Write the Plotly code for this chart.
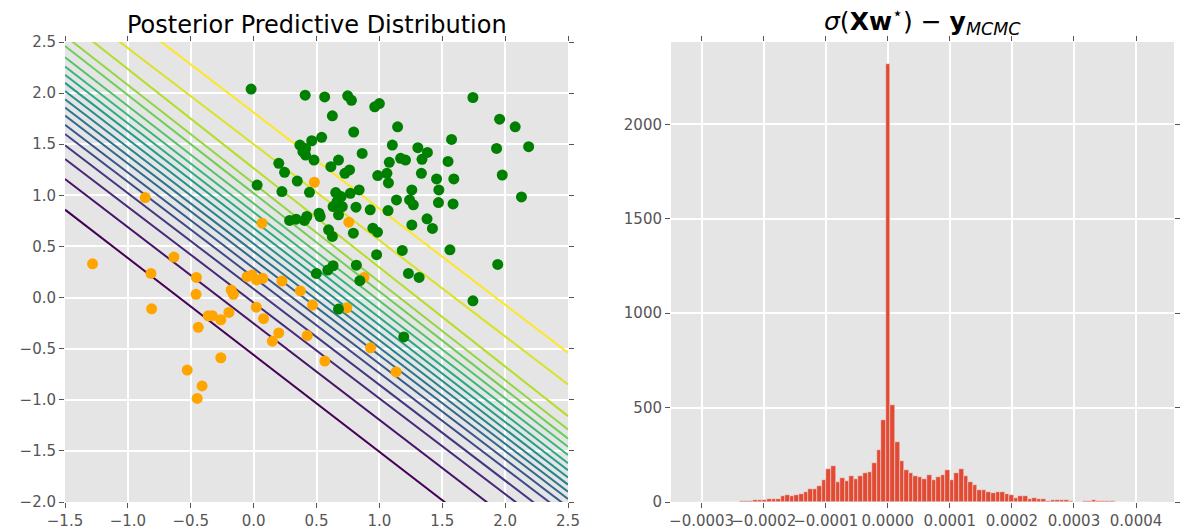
import numpy as np
import plotly.graph_objects as go
from plotly.colors import sample_colorscale

# ---------------- Left panel data ----------------
green_x = [-0.02, 0.41, 0.565, 0.748, 0.778, 0.963, 1.0, 0.626, 1.744, 1.956, 2.08, 2.187, 1.932,
           1.977, 2.13, 1.145, 0.796, 0.541, 0.462, 0.368, 0.413, 0.392, 0.413, 0.48, 0.614, 0.675,
           0.863, 1.103, 1.306, 1.382, 1.169, 1.208, 1.339, 1.574, 1.546, 1.592, 1.455, 1.079, 1.06,
           0.987, 1.072, 0.726, 0.763, 1.334, 1.258, 1.473, 1.47, 1.586, 1.136, 1.24, 1.27, 1.258,
           1.379, 1.422, 1.069, 0.927, 0.948, 0.985, 1.182, 1.561, 0.978, 0.2, 0.246, 0.347, 0.444,
           0.225, 0.028, 0.653, 0.696, 0.839, 0.769, 0.663, 0.632, 0.705, 0.814, 0.675, 0.52, 0.529,
           0.423, 0.286, 0.338, 0.404, 0.596, 0.626, 0.793, 1.941, 0.817, 0.632, 0.59, 0.499, 1.231,
           1.316, 0.845, 1.744, 0.675, 1.194]
green_y = [2.04, 1.98, 1.963, 1.973, 1.93, 1.866, 1.898, 1.778, 1.957, 1.745, 1.67, 1.476, 1.459,
           1.199, 0.984, 1.67, 1.619, 1.567, 1.534, 1.492, 1.459, 1.427, 1.394, 1.345, 1.28, 1.345,
           1.41, 1.492, 1.466, 1.42, 1.362, 1.345, 1.352, 1.547, 1.332, 1.16, 1.16, 1.323, 1.215,
           1.193, 1.121, 1.215, 1.248, 1.215, 1.053, 1.053, 0.929, 0.916, 0.955, 0.955, 0.907, 0.711,
           0.77, 0.676, 0.851, 0.858, 0.679, 0.64, 0.461, 0.467, 0.419, 1.313, 1.225, 1.14, 1.03,
           1.037, 1.1, 1.027, 0.988, 1.053, 1.02, 0.939, 0.89, 0.89, 0.884, 0.809, 0.825, 0.793,
           0.793, 0.754, 0.767, 0.754, 0.663, 0.598, 0.63, 0.324, 0.317, 0.311, 0.269, 0.236, 0.236,
           0.197, 0.165, -0.032, -0.113, -0.385]

orange_x = [-1.281, -0.862, 0.483, 0.067, 0.757, -0.634, -0.817, -0.455, -0.458, -0.811, -0.44,
            -0.328, -0.361, -0.261, -0.197, -0.179, -0.161, -0.052, -0.012, 0.073, 0.024, 0.021,
            0.079, 0.225, 0.371, 0.2, 0.149, 0.468, 0.426, 0.566, 0.741, 0.878, 0.93, 1.133,
            -0.528, -0.41, -0.261, -0.449]
orange_y = [0.33, 0.978, 1.128, 0.728, 0.737, 0.396, 0.236, 0.197, 0.032, -0.11, -0.291,
            -0.178, -0.178, -0.217, -0.146, 0.074, 0.032, 0.204, 0.22, 0.188, 0.172, -0.094,
            -0.207, 0.162, 0.065, -0.346, -0.427, -0.074, -0.372, -0.621, -0.1, 0.197, -0.492,
            -0.728, -0.709, -0.864, -0.589, -0.987]

# posterior predictive contour lines: level, y at x=-1.5 and y at x=2.5
contour_levels = [0.05, 0.10, 0.15, 0.20, 0.25, 0.30, 0.35, 0.40, 0.45, 0.50,
                  0.55, 0.60, 0.65, 0.70, 0.75, 0.80, 0.85, 0.90, 0.95]
contour_x_ends = [-1.5, 2.5]
contour_y_left = [0.86, 1.16, 1.355, 1.49, 1.60, 1.69, 1.78, 1.86, 1.94, 2.02,
                  2.10, 2.18, 2.26, 2.35, 2.46, 2.56, 2.72, 2.91, 3.22]
contour_y_right = [-2.93, -2.61, -2.39, -2.26, -2.14, -2.05, -1.97, -1.90, -1.83, -1.76,
                   -1.69, -1.62, -1.54, -1.46, -1.38, -1.29, -1.16, -0.85, -0.54]

# ---------------- Right panel data ----------------
hist_min = -3.125e-4
hist_bin_width = 7.368e-6
hist_counts = [1, 0, 0, 0, 1, 0, 1, 1, 2, 2, 3, 3, 4, 12, 9, 12, 18, 18, 18, 34,
               37, 34, 37, 43, 51, 67, 71, 83, 119, 176, 193, 106, 129, 113, 138, 120, 136, 156, 161, 209,
               273, 434, 2320, 516, 319, 218, 172, 154, 137, 133, 124, 142, 119, 135, 142, 168, 117, 154, 176, 140,
               105, 90, 66, 66, 55, 49, 51, 53, 44, 37, 21, 30, 30, 18, 20, 16, 18, 7, 11, 11,
               11, 11, 5, 2, 2, 7, 7, 9, 5, 4, 4, 5, 2, 2, 1, 0, 1, 0, 0, 1]
hist_ticks = [-0.0003, -0.0002, -0.0001, 0.0, 0.0001, 0.0002, 0.0003, 0.0004]

FONT = "DejaVu Sans"
TICK_COLOR = "#555555"

fig = go.Figure()

line_colors = sample_colorscale("Viridis", [i / (len(contour_levels) - 1) for i in range(len(contour_levels))])
for lev, yl, yr, col in zip(contour_levels, contour_y_left, contour_y_right, line_colors):
    fig.add_trace(go.Scatter(x=contour_x_ends, y=[yl, yr], mode="lines",
                             line=dict(color=col, width=2), showlegend=False,
                             hoverinfo="skip", xaxis="x", yaxis="y", name=f"p={lev:.2f}"))

fig.add_trace(go.Scatter(x=orange_x, y=orange_y, mode="markers",
                         marker=dict(color="#FFA500", size=11, line=dict(width=0)),
                         showlegend=False, xaxis="x", yaxis="y"))
fig.add_trace(go.Scatter(x=green_x, y=green_y, mode="markers",
                         marker=dict(color="#008000", size=11, line=dict(width=0)),
                         showlegend=False, xaxis="x", yaxis="y"))

centers = hist_min + (np.arange(len(hist_counts)) + 0.5) * hist_bin_width
fig.add_trace(go.Bar(x=centers, y=hist_counts, width=hist_bin_width,
                     marker=dict(color="#E24A33", line=dict(color="#EEEEEE", width=0.5)),
                     showlegend=False, xaxis="x2", yaxis="y2"))

axis_common = dict(showgrid=True, gridcolor="white", gridwidth=1.5, zeroline=False,
                   showline=False, ticks="outside", ticklen=5, tickwidth=1,
                   tickcolor=TICK_COLOR, mirror="ticks", tickangle=0, automargin=False,
                   tickfont=dict(family=FONT, size=15, color=TICK_COLOR))

W, H = 1188, 531
L, R, T, B = 65, 14, 42, 29
pw = W - L - R
left_dom = [0, (568 - L) / pw]
right_dom = [(671 - L) / pw, 1]

fig.update_layout(
    width=W, height=H,
    margin=dict(l=L, r=R, t=T, b=B, pad=0, autoexpand=False),
    paper_bgcolor="white", plot_bgcolor="#E5E5E5",
    bargap=0,
    font=dict(family=FONT, color="#222222"),
    xaxis=dict(domain=left_dom, range=[-1.5, 2.5], tick0=-1.5, dtick=0.5, tickformat=".1f",
               anchor="y", **axis_common),
    yaxis=dict(domain=[0, 1], range=[-2.0, 2.5], tick0=-2.0, dtick=0.5, tickformat=".1f",
               anchor="x", **axis_common),
    xaxis2=dict(domain=right_dom, range=[-3.493e-4, 4.612e-4], tickmode="array",
                tickvals=hist_ticks, ticktext=[("\u2212" if v < 0 else "") + f"{abs(v):.4f}" for v in hist_ticks],
                anchor="y2", **axis_common),
    yaxis2=dict(domain=[0, 1], range=[0, 2436], tick0=0, dtick=500, tickformat="d",
                anchor="x2", **axis_common),
    annotations=[
        dict(text="Posterior Predictive Distribution", xref="paper", yref="paper",
             x=(left_dom[0] + left_dom[1]) / 2, y=1, xanchor="center", yanchor="bottom",
             yshift=1, showarrow=False, font=dict(family=FONT, size=24, color="black")),
        dict(text="<i>σ</i>(<b>Xw</b><sup>⋆</sup>) − <b>y</b><sub><i>MCMC</i></sub>",
             xref="paper", yref="paper",
             x=(right_dom[0] + right_dom[1]) / 2, y=1, xanchor="center", yanchor="bottom",
             yshift=1, showarrow=False, font=dict(family=FONT, size=25, color="black")),
    ],
)

fig.write_html("out.html", config={"displayModeBar": False},
               post_script="document.body.style.margin='0';document.body.style.overflow='hidden';")
